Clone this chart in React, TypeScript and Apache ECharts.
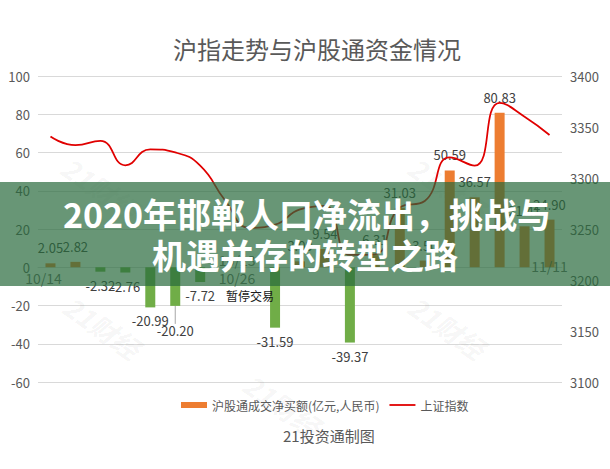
import React, { useEffect, useRef } from 'react';
import * as echarts from 'echarts';

// ---------- data ----------
const dates = ['10/14', '10/15', '10/16', '10/19', '10/20', '10/21', '10/22', '10/23', '10/26', '10/27', '10/28', '10/29', '10/30', '11/2', '11/3', '11/4', '11/5', '11/6', '11/9', '11/10', '11/11'];
const netBuy: (number | null)[] = [2.05, 2.82, -2.32, -2.76, -20.99, -20.2, -7.72, null, null, -31.59, 3.09, 9.54, -39.37, 6.31, 31.03, 3.5, 50.59, 36.57, 80.83, 21.41, 24.9];
const shIndex = [3340.61, 3332.18, 3336.36, 3312.5, 3328.1, 3325.03, 3312.16, 3278.0, 3251.12, 3254.32, 3269.24, 3272.74, 3224.53, 3225.12, 3271.07, 3277.44, 3320.13, 3312.16, 3373.73, 3360.15, 3342.2];
const suspendedDates = ['10/26'];
const suspendedNote = '暂停交易';
const displacedLabelDates = ['10/21'];
const datesLabelledBelow = ['10/14', '10/26'];
const datesLabelledAbove = ['10/23', '11/11'];
const leftMin = -60, leftMax = 100, leftInterval = 20;
const rightMin = 3100, rightMax = 3400, rightInterval = 50;
const titleText = '沪指走势与沪股通资金情况';
const sourceText = '21投资通制图';
const barName = '沪股通成交净买额(亿元,人民币)';
const lineName = '上证指数';
const bannerLines = ['2020年邯郸人口净流出，挑战与', '机遇并存的转型之路'];
const watermark = '21财经';

// ---------- styles ----------
const FONT = '"Noto Sans CJK SC", "Noto Sans", sans-serif';
const ORANGE = '#ED7D31';
const GREEN = '#70AD47';
const RED = '#E00000';
const AXIS_TEXT = '#595959';
const LABEL_TEXT = '#404040';
const annotationStyle: Record<string, any> = {
  '10/14': { position: 'bottom', distance: 3, offset: [-7, 0] },
  '10/26': { position: 'bottom', distance: 3, offset: [-13, 0] },
  '10/23': { position: 'top', distance: 0, offset: [12, 0] },
  '11/11': { position: 'top', distance: 0, offset: [0, 6] },
};
const watermarkSpots = [
  [100, 188], [447, 188], [102, 327], [447, 327], [282, 405],
];

export default function App() {
  const ref = useRef<HTMLDivElement>(null);
  useEffect(() => {
    if (!ref.current) return;
    const chart = echarts.init(ref.current, undefined, { renderer: 'svg' });

    const barData = dates.map((d, i) => {
      const v = netBuy[i];
      if (suspendedDates.includes(d)) {
        return {
          value: 0,
          itemStyle: { color: 'transparent' },
          label: {
            show: true,
            position: 'bottom',
            distance: 22,
            offset: [-6, 0],
            formatter: suspendedNote,
            fontSize: 12,
            color: '#1a1a1a',
          },
        };
      }
      if (v === null) return '-';
      const pos = v >= 0;
      const item: any = {
        value: v,
        itemStyle: { color: pos ? ORANGE : GREEN },
        label: { position: pos ? 'top' : 'bottom', distance: pos ? 9 : 7 },
      };
      if (displacedLabelDates.includes(d)) {
        item.labelLine = { show: true, lineStyle: { color: '#A6A6A6', width: 1 } };
      }
      return item;
    });

    const annotated = new Set([...datesLabelledBelow, ...datesLabelledAbove]);
    const annotationData = dates.map((d) =>
      annotated.has(d)
        ? { value: 0, label: { show: true, ...annotationStyle[d] } }
        : '-'
    );

    const graphics: any[] = [];
    watermarkSpots.forEach(([x, y]) => {
      graphics.push({
        type: 'text',
        x,
        y,
        rotation: (-35 * Math.PI) / 180,
        z: 1,
        silent: true,
        style: {
          text: watermark,
          font: `italic bold 27px ${FONT}`,
          fill: 'rgba(0,0,0,0.055)',
          textAlign: 'center',
          textVerticalAlign: 'middle',
        },
      });
    });
    graphics.push({
      type: 'rect',
      z: 100,
      silent: true,
      shape: { x: 0, y: 182, width: 610, height: 104 },
      style: { fill: 'rgba(40,105,60,0.7)' },
    });
    graphics.push({
      type: 'text',
      x: 307,
      y: 213,
      z: 101,
      silent: true,
      style: {
        text: bannerLines[0],
        font: `bold 34px ${FONT}`,
        fill: '#ffffff',
        textAlign: 'center',
        textVerticalAlign: 'middle',
      },
    });
    graphics.push({
      type: 'text',
      x: 305,
      y: 254,
      z: 101,
      silent: true,
      style: {
        text: bannerLines[1],
        font: `bold 34px ${FONT}`,
        fill: '#ffffff',
        textAlign: 'center',
        textVerticalAlign: 'middle',
      },
    });

    chart.setOption({
      animation: false,
      backgroundColor: '#ffffff',
      textStyle: { fontFamily: FONT },
      title: [
        {
          text: titleText,
          left: 168,
          top: 31,
          textStyle: { fontSize: 24, fontWeight: 'normal', color: AXIS_TEXT, fontFamily: FONT },
        },
        {
          text: sourceText,
          left: 278,
          top: 423,
          textStyle: { fontSize: 15, fontWeight: 'normal', color: AXIS_TEXT, fontFamily: FONT },
        },
      ],
      legend: {
        data: [
          { name: barName, icon: 'rect' },
          { name: lineName, icon: 'path://M0,0H26V1.8H0Z' },
        ],
        left: 176,
        top: 394,
        itemWidth: 26,
        itemHeight: 6,
        itemGap: 10,
        textStyle: { fontSize: 12, color: AXIS_TEXT, fontFamily: FONT },
      },
      grid: { left: 38, right: 48, top: 76, bottom: 87 },
      xAxis: {
        type: 'category',
        data: dates,
        axisLine: { show: true, onZero: true, lineStyle: { color: '#D9D9D9' } },
        axisTick: { show: false },
        axisLabel: { show: false },
        splitLine: { show: false },
      },
      yAxis: [
        {
          type: 'value',
          min: leftMin,
          max: leftMax,
          interval: leftInterval,
          axisLine: { show: false },
          axisTick: { show: false },
          axisLabel: { fontSize: 13, color: AXIS_TEXT, margin: 8, formatter: (v: number) => String(v) },
          splitLine: { lineStyle: { color: '#D9D9D9' } },
        },
        {
          type: 'value',
          min: rightMin,
          max: rightMax,
          interval: rightInterval,
          axisLine: { show: false },
          axisTick: { show: false },
          axisLabel: { fontSize: 13, color: AXIS_TEXT, margin: 8, formatter: (v: number) => String(v) },
          splitLine: { show: false },
        },
      ],
      series: [
        {
          name: barName,
          type: 'bar',
          barWidth: 10,
          itemStyle: { color: ORANGE },
          label: {
            show: true,
            fontSize: 13,
            color: LABEL_TEXT,
            formatter: (p: any) => (typeof p.value === 'number' ? p.value.toFixed(2) : ''),
          },
          labelLayout: (params: any) =>
            displacedLabelDates.includes(dates[params.dataIndex]) ? { dy: 11 } : {},
          data: barData,
          z: 2,
        },
        {
          name: lineName,
          type: 'line',
          yAxisIndex: 1,
          smooth: 0.5,
          symbol: 'none',
          showSymbol: false,
          lineStyle: { color: RED, width: 1.75 },
          itemStyle: { color: RED },
          data: shIndex,
          z: 3,
        },
        {
          name: 'dateAnnotations',
          type: 'scatter',
          yAxisIndex: 0,
          symbolSize: 1,
          silent: true,
          itemStyle: { color: 'transparent' },
          label: {
            show: false,
            fontSize: 14,
            color: LABEL_TEXT,
            formatter: (p: any) => p.name,
          },
          data: annotationData,
          z: 4,
        },
      ],
      graphic: graphics,
    });

    return () => chart.dispose();
  }, []);

  return (
    <div
      ref={ref}
      style={{ position: 'absolute', left: 0, top: 0, width: 610, height: 469 }}
    />
  );
}
